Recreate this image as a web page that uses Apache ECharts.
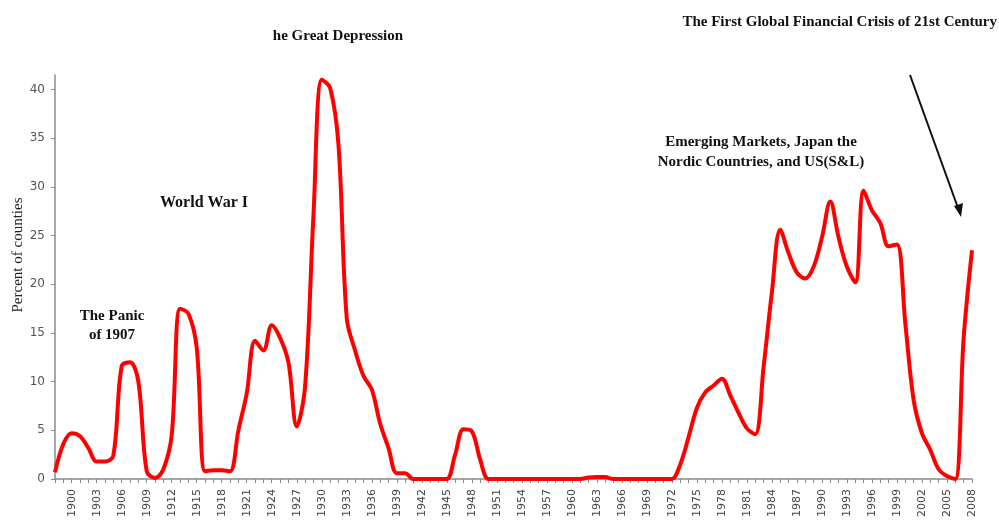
<!DOCTYPE html>
<html>
<head>
<meta charset="utf-8">
<script src="https://cdn.jsdelivr.net/npm/echarts@6/dist/echarts.min.js"></script>
<style>html,body{margin:0;padding:0;background:#fff;}#c{width:999px;height:522px;}</style>
</head>
<body>
<div id="c"></div>
<script>
const years = [];
for (let y = 1898; y <= 2008; y++) years.push(String(y));

const percentCountries = [
  0.7, 3.6, 4.7, 4.4, 3.2, 1.8, 1.8, 2.4, 11.6, 12.0, 10.0, 0.8, 0.1, 1.0, 4.5, 17.5, 17.0, 13.5, 0.8, 0.9, 0.9,
  0.8, 5.0, 8.8, 14.2, 13.2, 15.8, 14.5, 12.0, 5.4, 9.5, 27.0, 41.0, 40.2, 34.4, 16.5, 13.2, 10.6, 9.2, 5.7, 3.2,
  0.6, 0.6, 0.0, 0.0, 0.0, 0.0, 0.0, 2.5, 5.1, 4.9, 2.0, 0.0, 0.0, 0.0, 0.0, 0.0, 0.0, 0.0, 0.0, 0.0, 0.0,
  0.0, 0.0, 0.15, 0.2, 0.2, 0.0, 0.0, 0.0, 0.0, 0.0, 0.0, 0.0, 0.0, 1.5, 4.3, 7.3, 8.9, 9.6, 10.3, 8.6, 6.8,
  5.2, 4.6, 11.5, 19.2, 25.6, 23.2, 21.2, 20.6, 21.8, 24.8, 28.5, 24.8, 21.8, 20.2, 29.6, 27.6, 26.3, 23.9, 24.1,
  16.0, 8.1, 4.7, 3.0, 1.0, 0.3, 0.0, 14.5, 23.5
];

const yTickValues = [0, 5, 10, 15, 20, 25, 30, 35, 40];
const yAxisTitle = 'Percent of counties';
const annotations = {
  depression: 'he Great Depression',
  gfc: 'The First Global Financial Crisis of 21st Century',
  ww1: 'World War I',
  panic: 'The Panic\nof 1907',
  emerging: 'Emerging Markets, Japan the\nNordic Countries, and US(S&L)'
};

const chart = echarts.init(document.getElementById('c'), null, {renderer: 'canvas'});
function serif(size) {
  return {fontFamily: '"Liberation Serif", "Times New Roman", serif', fontWeight: 'bold', fontSize: size, fill: '#111'};
}

chart.setOption({
  animation: false,
  backgroundColor: '#fff',
  grid: {left: 55, right: 27, top: 75, bottom: 43, containLabel: false},
  xAxis: {
    type: 'category',
    data: years,
    boundaryGap: false,
    axisLine: {lineStyle: {color: '#8a8a8a', width: 1.5}},
    axisTick: {interval: 0, length: 4, lineStyle: {color: '#8a8a8a'}},
    axisLabel: {
      interval: function (i, v) { return (parseInt(v, 10) - 1900) % 3 === 0; },
      rotate: 90,
      margin: 10,
      color: '#444',
      fontFamily: '"DejaVu Sans", Verdana, sans-serif',
      fontSize: 11
    },
    splitLine: {show: false}
  },
  yAxis: {
    type: 'value',
    min: 0,
    max: 41.5,
    axisLine: {show: true, lineStyle: {color: '#8a8a8a', width: 1.5}},
    axisTick: {show: true, length: 4, customValues: yTickValues, lineStyle: {color: '#8a8a8a'}},
    axisLabel: {
      customValues: yTickValues,
      color: '#555',
      fontFamily: '"DejaVu Sans", Verdana, sans-serif',
      fontSize: 12,
      margin: 10
    },
    splitLine: {show: false}
  },
  series: [{
    type: 'line',
    data: percentCountries,
    smooth: 0.35,
    showSymbol: false,
    lineStyle: {color: '#ff0000', width: 4},
    itemStyle: {color: '#ff0000'}
  }],
  graphic: [
    {type: 'text', x: 18, y: 255, rotation: Math.PI / 2,
     style: {text: yAxisTitle, align: 'center', verticalAlign: 'middle', fontFamily: '"Liberation Serif", "Times New Roman", serif', fontSize: 15, fill: '#222'}},
    {type: 'text', style: Object.assign({x: 338, y: 36, text: annotations.depression, align: 'center', verticalAlign: 'middle'}, serif(15))},
    {type: 'text', style: Object.assign({x: 997, y: 22, text: annotations.gfc, align: 'right', verticalAlign: 'middle'}, serif(15))},
    {type: 'text', style: Object.assign({x: 204, y: 203, text: annotations.ww1, align: 'center', verticalAlign: 'middle'}, serif(16))},
    {type: 'text', style: Object.assign({x: 112, y: 326, text: annotations.panic, align: 'center', verticalAlign: 'middle', lineHeight: 19}, serif(15))},
    {type: 'text', style: Object.assign({x: 761, y: 152, text: annotations.emerging, align: 'center', verticalAlign: 'middle', lineHeight: 20}, serif(15))},
    {type: 'line', shape: {x1: 910, y1: 75, x2: 958, y2: 208}, style: {stroke: '#111', lineWidth: 2}},
    {type: 'polygon', shape: {points: [[961, 217], [954, 206], [963, 203]]}, style: {fill: '#111'}}
  ]
});
</script>
</body>
</html>
